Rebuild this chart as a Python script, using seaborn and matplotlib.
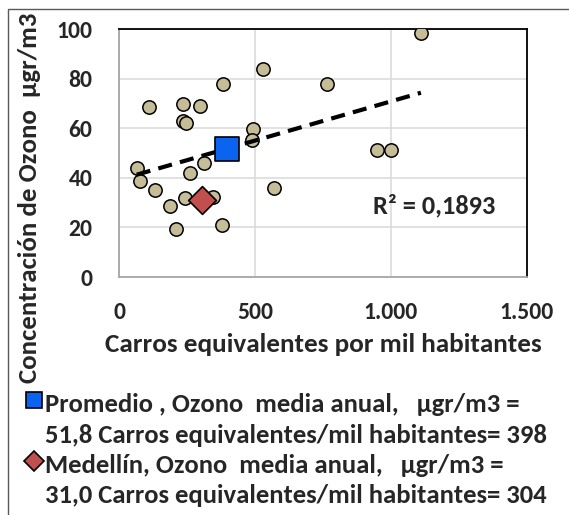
import numpy as np
import pandas as pd
import matplotlib
matplotlib.use("Agg")
import matplotlib.pyplot as plt
import seaborn as sns
from matplotlib.patches import Rectangle
from matplotlib.lines import Line2D

# carros equivalentes por mil habitantes / ozono media anual (ugr/m3)
carros = [304, 1110, 531, 763, 384, 111, 236, 298, 236, 246, 494, 488, 950, 999,
          65, 312, 77, 261, 132, 570, 243, 347, 187, 377, 211]
ozono = [31.0, 98.3, 83.9, 78.0, 77.8, 68.5, 69.9, 69.0, 62.9, 62.2, 59.5, 55.2, 51.3, 51.3,
         44.1, 46.1, 38.8, 41.8, 35.1, 36.0, 31.7, 32.4, 28.8, 21.0, 19.4]

prom_x, prom_y = [398], [51.8]
med_x, med_y = [304], [31.0]

xticks = [0, 500, 1000, 1500]
xtick_labels = ["0", "500", "1.000", "1.500"]
yticks = [0, 20, 40, 60, 80, 100]

leyenda = ["Promedio , Ozono  media anual,   \u00b5gr/m3 =",
           "51,8 Carros equivalentes/mil habitantes= 398",
           "Medell\u00edn, Ozono  media anual,   \u00b5gr/m3 =",
           "31,0 Carros equivalentes/mil habitantes= 304"]

df = pd.DataFrame({"carros": carros, "ozono": ozono})

sns.set_theme(style="white")
plt.rcParams["font.family"] = ["Carlito", "DejaVu Sans"]
plt.rcParams["font.weight"] = "bold"

fig = plt.figure(figsize=(5.69, 5.15), dpi=100)
fig.patches.append(Rectangle((8 / 569, -0.1), 1.2, 1 - 9 / 515 + 0.1, transform=fig.transFigure,
                             fill=False, edgecolor="#595959", linewidth=1.0))
ax = fig.add_axes([119 / 569, 1 - 277 / 515, 408 / 569, 248 / 515])

sns.scatterplot(data=df, x="carros", y="ozono", ax=ax, color="#C4BD97", edgecolor="black",
                linewidth=1.1, s=92, zorder=3, legend=False)
sns.regplot(data=df, x="carros", y="ozono", ax=ax, scatter=False, ci=None,
            line_kws=dict(color="black", linewidth=3.0, linestyle=(0, (3.4, 2.0)), zorder=4))
sns.scatterplot(x=prom_x, y=prom_y, ax=ax, marker="s", color="#0A64F0", edgecolor="black",
                linewidth=1.2, s=290, zorder=5, legend=False)
sns.scatterplot(x=med_x, y=med_y, ax=ax, marker="D", color="#C0504D", edgecolor="black",
                linewidth=1.2, s=200, zorder=5, legend=False)

ax.set_xlim(0, 1500)
ax.set_ylim(0, 100)
ax.set_xticks(xticks)
ax.set_xticklabels(xtick_labels)
ax.set_yticks(yticks)
ax.grid(True, color="#D9D9D9", linewidth=1.1)
ax.set_axisbelow(True)
ax.tick_params(axis="both", labelsize=17, length=0)
ax.tick_params(axis="y", pad=19)
ax.tick_params(axis="x", pad=18)
for lab in ax.get_xticklabels() + ax.get_yticklabels():
    lab.set_fontweight("bold")
for side in ["top", "right"]:
    ax.spines[side].set_color("black")
    ax.spines[side].set_linewidth(1.3)
for side in ["left", "bottom"]:
    ax.spines[side].set_color("#A6A6A6")
    ax.spines[side].set_linewidth(1.3)

ax.set_xlabel("Carros equivalentes por mil habitantes", fontsize=19.5, fontweight="bold")
ax.set_ylabel("Concentraci\u00f3n de Ozono  \u00b5gr/m3", fontsize=19.4, fontweight="bold")
ax.xaxis.set_label_coords(0.502, -0.225)
ax.yaxis.set_label_coords(-0.19, 0.32)

ax.text(934, 25.8, "R\u00b2 = 0,1893", fontsize=19, fontweight="bold", ha="left", va="baseline")

# leyenda: marcador solo en la primera linea de cada entrada
vacio = Line2D([], [], linestyle="none", marker=None)
h_prom = Line2D([], [], linestyle="none", marker="s", markersize=11.5, markerfacecolor="#0A64F0",
                markeredgecolor="black", markeredgewidth=1.2)
h_med = Line2D([], [], linestyle="none", marker="D", markersize=10, markerfacecolor="#C0504D",
               markeredgecolor="black", markeredgewidth=1.2)
fig.legend([h_prom, vacio, h_med, vacio], leyenda, loc="upper left",
           bbox_to_anchor=(25.5 / 569, 1 - 388 / 515), frameon=False, borderpad=0,
           borderaxespad=0, handletextpad=0.13, handlelength=0.6, handleheight=1.38,
           labelspacing=0.0, prop={"weight": "bold", "size": 19.2})

fig.savefig("out.png", dpi=100)
